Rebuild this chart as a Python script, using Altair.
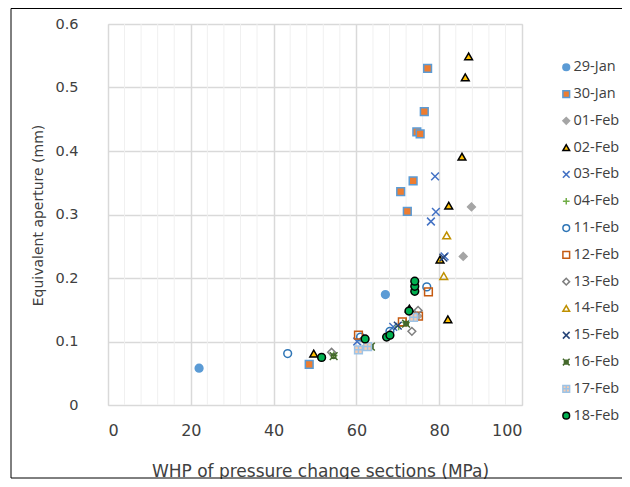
import altair as alt
import pandas as pd

# ---------------- data ----------------
series = ["29-Jan", "30-Jan", "01-Feb", "02-Feb", "03-Feb", "04-Feb", "11-Feb",
          "12-Feb", "13-Feb", "14-Feb", "15-Feb", "16-Feb", "17-Feb", "18-Feb"]

x_29jan = [22.0, 67.0]
y_29jan = [0.058, 0.174]
x_30jan = [48.6, 72.3, 70.7, 73.7, 74.6, 75.4, 76.4, 77.2]
y_30jan = [0.064, 0.305, 0.336, 0.353, 0.430, 0.427, 0.462, 0.530]
x_01feb = [74.8, 85.8, 87.8]
y_01feb = [0.140, 0.234, 0.312]
x_02feb = [49.7, 72.8, 80.2, 82.1, 82.3, 85.5, 86.3, 87.1]
y_02feb = [0.081, 0.152, 0.229, 0.135, 0.314, 0.391, 0.516, 0.549]
x_03feb = [60.2, 68.9, 78.0, 79.2, 79.0, 81.3]
y_03feb = [0.100, 0.123, 0.289, 0.304, 0.360, 0.234]
x_04feb = [54.5, 62.8, 70.2, 72.0]
y_04feb = [0.078, 0.092, 0.124, 0.130]
x_11feb = [43.4, 61.0, 68.1, 77.0]
y_11feb = [0.081, 0.107, 0.116, 0.186]
x_12feb = [60.5, 71.1, 75.0, 77.4]
y_12feb = [0.110, 0.131, 0.140, 0.178]
x_13feb = [54.0, 73.4, 74.9]
y_13feb = [0.083, 0.116, 0.149]
x_14feb = [62.0, 81.1, 81.8]
y_14feb = [0.092, 0.203, 0.267]
x_15feb = [70.0, 81.0]
y_15feb = [0.125, 0.232]
x_16feb = [54.5, 63.5, 72.0]
y_16feb = [0.077, 0.092, 0.128]
x_17feb = [60.5, 62.7, 73.8]
y_17feb = [0.087, 0.092, 0.138]
x_18feb = [51.6, 62.1, 67.3, 68.1, 72.7, 74.1, 74.1, 74.1]
y_18feb = [0.075, 0.104, 0.107, 0.110, 0.148, 0.179, 0.187, 0.195]

xs = [x_29jan, x_30jan, x_01feb, x_02feb, x_03feb, x_04feb, x_11feb,
      x_12feb, x_13feb, x_14feb, x_15feb, x_16feb, x_17feb, x_18feb]
ys = [y_29jan, y_30jan, y_01feb, y_02feb, y_03feb, y_04feb, y_11feb,
      y_12feb, y_13feb, y_14feb, y_15feb, y_16feb, y_17feb, y_18feb]

x_ticks = [0, 20, 40, 60, 80, 100]
x_minor = [v for v in range(0, 101, 4) if v % 20 != 0]
y_ticks = [0, 0.1, 0.2, 0.3, 0.4, 0.5, 0.6]

rows = []
for s, xl, yl in zip(series, xs, ys):
    for a, b in zip(xl, yl):
        rows.append({"series": s, "x": a, "y": b})
df = pd.DataFrame(rows)

# ---------------- styles ----------------
X_PATH = "M-1,-1L1,1M-1,1L1,-1"
PLUS_PATH = "M-1,0L1,0M0,-1L0,1"
STAR_PATH = "M-0.55,-0.55H0.55V0.55H-0.55Z M-1,-1L1,1 M-1,1L1,-1"
SQPLUS_PATH = "M-1,-1H1V1H-1Z M-1,0H1 M0,-1V1"

shapes = ["circle", "square", "diamond", "triangle-up", X_PATH, PLUS_PATH, "circle",
          "square", "diamond", "triangle-up", X_PATH, STAR_PATH, SQPLUS_PATH, "circle"]
fills = ["#5B9BD5", "#ED7D31", "#A5A5A5", "#FFC000", "transparent", "transparent",
         "transparent", "transparent", "transparent", "transparent", "transparent",
         "#9CB86A", "#F8CBAD", "#00B050"]
strokes = ["#5B9BD5", "#5B9BD5", "#A5A5A5", "#000000", "#4472C4", "#70AD47", "#2E75B6",
           "#C55A11", "#7F7F7F", "#BF9000", "#264478", "#43682B", "#9DC3E6", "#000000"]

FONT = "DejaVu Sans"
LFONT = "Open Sans"
TXT = "#404040"

xscale = alt.Scale(domain=[0, 100], nice=False, zero=False)
yscale = alt.Scale(domain=[0, 0.6], nice=False)

x_axis = alt.Axis(
    values=x_ticks, title="WHP of pressure change sections (MPa)",
    grid=True, gridColor="#D9D9D9", gridWidth=1.5, ticks=False, domain=False,
    labelPadding=17, labelFontSize=16, labelFont=FONT, labelColor=TXT,
    titleFont=FONT, titleFontSize=17, titleFontWeight="normal", titleColor=TXT,
    titleX=212, titleY=71, titleBaseline="alphabetic")

frame = alt.Chart(pd.DataFrame({"k": [0]})).mark_rect(
    filled=False, stroke="#000000", strokeWidth=1, clip=False
).encode(
    x=alt.value(-97), x2=alt.value(540), y=alt.value(-15.5), y2=alt.value(454)
)

minor = alt.Chart(pd.DataFrame({"v": x_minor})).mark_rule(
    color="#F0F0F0", strokeWidth=1
).encode(x=alt.X("v:Q", scale=xscale, axis=x_axis))

legend = alt.Legend(
    title=None, orient="none", legendX=451, legendY=36, padding=0,
    labelFont=LFONT, labelFontSize=14.5, labelColor=TXT, rowPadding=11.8,
    symbolSize=45, symbolStrokeWidth=1.5, labelOffset=0,
)

points = alt.Chart(df).mark_point(size=60, strokeWidth=1.5, opacity=1).encode(
    x=alt.X("x:Q", scale=xscale, axis=x_axis),
    y=alt.Y("y:Q", scale=yscale, axis=alt.Axis(
        values=y_ticks, title="Equivalent aperture (mm)",
        labelExpr="datum.value == 0 ? '0' : format(datum.value, '.1f')",
        grid=True, gridColor="#D9D9D9", gridWidth=1.5, ticks=False, domain=False,
        labelPadding=30, labelFontSize=14.5, labelFont=FONT, labelColor=TXT,
        titleFont=FONT, titleFontSize=14, titleFontWeight="normal", titleColor=TXT,
        titleX=-66, titleY=191, titleBaseline="alphabetic")),
    shape=alt.Shape("series:N", scale=alt.Scale(domain=series, range=shapes), legend=legend),
    fill=alt.Fill("series:N", scale=alt.Scale(domain=series, range=fills), legend=legend),
    stroke=alt.Stroke("series:N", scale=alt.Scale(domain=series, range=strokes), legend=legend),
)

chart = alt.layer(frame, minor, points).properties(
    width=414, height=381,
    autosize=alt.AutoSizeParams(type="none"),
    padding={"left": 100, "top": 16, "right": 100, "bottom": 74},
).configure_view(stroke="#A6A6A6", strokeWidth=1).configure(background="white")

chart.save("out.html", embed_options={"renderer": "svg", "actions": False})
